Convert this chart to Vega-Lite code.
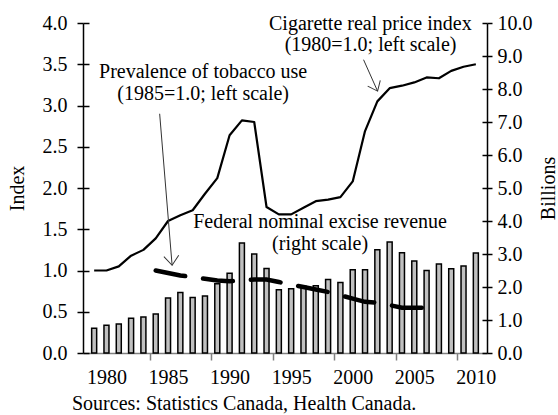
{
  "$schema": "https://vega.github.io/schema/vega-lite/v6.json",
  "width": 404,
  "height": 330,
  "autosize": {"type": "none"},
  "padding": {"left": 83, "top": 23, "right": 71, "bottom": 62},
  "background": "white",
  "config": {
    "font": "'Liberation Serif', 'DejaVu Serif', serif",
    "view": {"stroke": null},
    "axis": {
      "labelFont": "'Liberation Serif', 'DejaVu Serif', serif",
      "titleFont": "'Liberation Serif', 'DejaVu Serif', serif",
      "labelFontSize": 20,
      "titleFontSize": 20,
      "titleFontWeight": "normal",
      "labelColor": "black",
      "titleColor": "black",
      "domainColor": "black",
      "tickColor": "black",
      "domainWidth": 1.5,
      "tickWidth": 1.5,
      "grid": false
    }
  },
  "title": {
    "text": "Sources: Statistics Canada, Health Canada.",
    "orient": "bottom",
    "anchor": "start",
    "frame": "group",
    "font": "'Liberation Serif', 'DejaVu Serif', serif",
    "fontSize": 20,
    "fontWeight": "normal",
    "color": "black",
    "offset": 7,
    "dx": -11
  },
  "datasets": {
    "series": [
      {"year": 1979, "revenue": 0.75, "price": 1.00, "prevalence": null},
      {"year": 1980, "revenue": 0.84, "price": 1.00, "prevalence": null},
      {"year": 1981, "revenue": 0.88, "price": 1.05, "prevalence": null},
      {"year": 1982, "revenue": 1.05, "price": 1.18, "prevalence": null},
      {"year": 1983, "revenue": 1.09, "price": 1.25, "prevalence": null},
      {"year": 1984, "revenue": 1.18, "price": 1.39, "prevalence": 1.00},
      {"year": 1985, "revenue": 1.67, "price": 1.60, "prevalence": 0.97},
      {"year": 1986, "revenue": 1.83, "price": 1.67, "prevalence": 0.94},
      {"year": 1987, "revenue": 1.68, "price": 1.73, "prevalence": 0.92},
      {"year": 1988, "revenue": 1.73, "price": 1.93, "prevalence": 0.90},
      {"year": 1989, "revenue": 2.10, "price": 2.12, "prevalence": 0.88},
      {"year": 1990, "revenue": 2.42, "price": 2.64, "prevalence": 0.87},
      {"year": 1991, "revenue": 3.33, "price": 2.82, "prevalence": 0.88},
      {"year": 1992, "revenue": 3.00, "price": 2.80, "prevalence": 0.89},
      {"year": 1993, "revenue": 2.56, "price": 1.77, "prevalence": 0.89},
      {"year": 1994, "revenue": 1.92, "price": 1.68, "prevalence": 0.86},
      {"year": 1995, "revenue": 1.95, "price": 1.68, "prevalence": 0.83},
      {"year": 1996, "revenue": 2.02, "price": 1.76, "prevalence": 0.80},
      {"year": 1997, "revenue": 2.04, "price": 1.84, "prevalence": 0.77},
      {"year": 1998, "revenue": 2.23, "price": 1.86, "prevalence": 0.74},
      {"year": 1999, "revenue": 2.14, "price": 1.89, "prevalence": 0.70},
      {"year": 2000, "revenue": 2.52, "price": 2.08, "prevalence": 0.66},
      {"year": 2001, "revenue": 2.52, "price": 2.69, "prevalence": 0.62},
      {"year": 2002, "revenue": 3.13, "price": 3.05, "prevalence": 0.61},
      {"year": 2003, "revenue": 3.36, "price": 3.21, "prevalence": 0.58},
      {"year": 2004, "revenue": 3.04, "price": 3.24, "prevalence": 0.55},
      {"year": 2005, "revenue": 2.79, "price": 3.28, "prevalence": 0.55},
      {"year": 2006, "revenue": 2.50, "price": 3.34, "prevalence": 0.55},
      {"year": 2007, "revenue": 2.70, "price": 3.33, "prevalence": null},
      {"year": 2008, "revenue": 2.55, "price": 3.42, "prevalence": null},
      {"year": 2009, "revenue": 2.64, "price": 3.47, "prevalence": null},
      {"year": 2010, "revenue": 3.03, "price": 3.50, "prevalence": null}
    ],
    "notes": [
      {"label": "Cigarette real price index", "x": 2001.43, "y": 3.915},
      {"label": "(1980=1.0; left scale)", "x": 2001.45, "y": 3.661},
      {"label": "Prevalence of tobacco use", "x": 1987.85, "y": 3.33},
      {"label": "(1985=1.0; left scale)", "x": 1987.85, "y": 3.067}
    ],
    "rightnotes": [
      {"label": "Federal nominal excise revenue", "x": 1997.35, "y": 3.78},
      {"label": "(right scale)", "x": 1997.35, "y": 3.12}
    ],
    "arrows": [
      {"id": "prevalence", "x": 1984.32, "y": 2.90, "x2": 1985.33, "y2": 1.064},
      {"id": "price", "x": 2000.88, "y": 3.555, "x2": 2002.02, "y2": 3.174}
    ]
  },
  "layer": [
    {
      "data": {"name": "series"},
      "mark": {"type": "bar", "width": 5, "fill": "#c0c0c0", "stroke": "black", "strokeWidth": 1.5},
      "encoding": {
        "x": {
          "field": "year", "type": "quantitative",
          "scale": {"domain": [1978.5, 2010.5], "nice": false, "zero": false},
          "axis": {"orient": "bottom", "values": [1983.5, 1988.5, 1993.5, 1998.5, 2003.5, 2008.5], "labels": false, "ticks": true, "tickSize": 7, "tickColor": "#808080", "domain": false, "title": null}
        },
        "y": {
          "field": "revenue", "type": "quantitative",
          "scale": {"domain": [0, 10], "nice": false},
          "axis": {"orient": "right", "values": [0, 1, 2, 3, 4, 5, 6, 7, 8, 9, 10], "format": ".1f", "tickSize": 5, "labelPadding": 5, "title": "Billions", "titleAngle": 270, "titlePadding": 26}
        }
      }
    },
    {
      "data": {"name": "rightnotes"},
      "mark": {"type": "text", "align": "center", "baseline": "alphabetic", "font": "'Liberation Serif', 'DejaVu Serif', serif", "fontSize": 20, "color": "black"},
      "encoding": {
        "x": {"field": "x", "type": "quantitative", "scale": {"domain": [1978.5, 2010.5], "nice": false, "zero": false}, "axis": null},
        "y": {
          "field": "y", "type": "quantitative",
          "scale": {"domain": [0, 10], "nice": false},
          "axis": {"orient": "right", "values": [0, 1, 2, 3, 4, 5, 6, 7, 8, 9, 10], "tickSize": -5, "labels": false, "domain": false, "title": null}
        },
        "text": {"field": "label"}
      }
    },
    {
      "data": {"name": "series"},
      "mark": {"type": "line", "color": "black", "strokeWidth": 2.2, "strokeJoin": "round"},
      "encoding": {
        "x": {
          "field": "year", "type": "quantitative",
          "scale": {"domain": [1978.5, 2010.5], "nice": false, "zero": false},
          "axis": {"orient": "bottom", "values": [1980, 1985, 1990, 1995, 2000, 2005, 2010], "format": "d", "ticks": false, "tickSize": 0, "labelPadding": 14, "domain": true, "domainColor": "#808080", "title": null}
        },
        "y": {
          "field": "price", "type": "quantitative",
          "scale": {"domain": [0, 4], "nice": false},
          "axis": {"orient": "left", "values": [0, 0.5, 1, 1.5, 2, 2.5, 3, 3.5, 4], "format": ".1f", "tickSize": 6, "labelPadding": 10, "title": "Index", "titlePadding": 15}
        }
      }
    },
    {
      "data": {"name": "series"},
      "mark": {"type": "line", "color": "black", "strokeWidth": 4.5, "strokeDash": [30, 18], "strokeCap": "round"},
      "encoding": {
        "x": {"field": "year", "type": "quantitative", "scale": {"domain": [1978.5, 2010.5], "nice": false, "zero": false}, "axis": null},
        "y": {
          "field": "prevalence", "type": "quantitative",
          "scale": {"domain": [0, 4], "nice": false},
          "axis": {"orient": "left", "values": [0, 0.5, 1, 1.5, 2, 2.5, 3, 3.5, 4], "tickSize": -6, "labels": false, "domain": false, "title": null}
        }
      }
    },
    {
      "data": {"name": "notes"},
      "mark": {"type": "text", "align": "center", "baseline": "alphabetic", "font": "'Liberation Serif', 'DejaVu Serif', serif", "fontSize": 20, "color": "black"},
      "encoding": {
        "x": {"field": "x", "type": "quantitative", "scale": {"domain": [1978.5, 2010.5], "nice": false, "zero": false}, "axis": null},
        "y": {"field": "y", "type": "quantitative", "scale": {"domain": [0, 4], "nice": false}, "axis": null},
        "text": {"field": "label"}
      }
    },
    {
      "data": {"name": "arrows"},
      "mark": {"type": "rule", "color": "#333333", "strokeWidth": 1},
      "encoding": {
        "x": {"field": "x", "type": "quantitative", "scale": {"domain": [1978.5, 2010.5], "nice": false, "zero": false}, "axis": null},
        "y": {"field": "y", "type": "quantitative", "scale": {"domain": [0, 4], "nice": false}, "axis": null},
        "x2": {"field": "x2"},
        "y2": {"field": "y2"}
      }
    },
    {
      "data": {"name": "arrows"},
      "transform": [{"filter": "datum.id === 'prevalence'"}],
      "mark": {"type": "point", "shape": "M-0.8,-1L0,0L0.8,-1", "size": 346, "filled": false, "stroke": "#333333", "strokeWidth": 1, "opacity": 1, "angle": -4.8},
      "encoding": {
        "x": {"field": "x2", "type": "quantitative", "scale": {"domain": [1978.5, 2010.5], "nice": false, "zero": false}, "axis": null},
        "y": {"field": "y2", "type": "quantitative", "scale": {"domain": [0, 4], "nice": false}, "axis": null}
      }
    },
    {
      "data": {"name": "arrows"},
      "transform": [{"filter": "datum.id === 'price'"}],
      "mark": {"type": "point", "shape": "M-0.8,-1L0,0L0.8,-1", "size": 300, "filled": false, "stroke": "#333333", "strokeWidth": 1, "opacity": 1, "angle": -24.6},
      "encoding": {
        "x": {"field": "x2", "type": "quantitative", "scale": {"domain": [1978.5, 2010.5], "nice": false, "zero": false}, "axis": null},
        "y": {"field": "y2", "type": "quantitative", "scale": {"domain": [0, 4], "nice": false}, "axis": null}
      }
    }
  ],
  "resolve": {"scale": {"y": "independent"}, "axis": {"x": "independent", "y": "independent"}}
}
